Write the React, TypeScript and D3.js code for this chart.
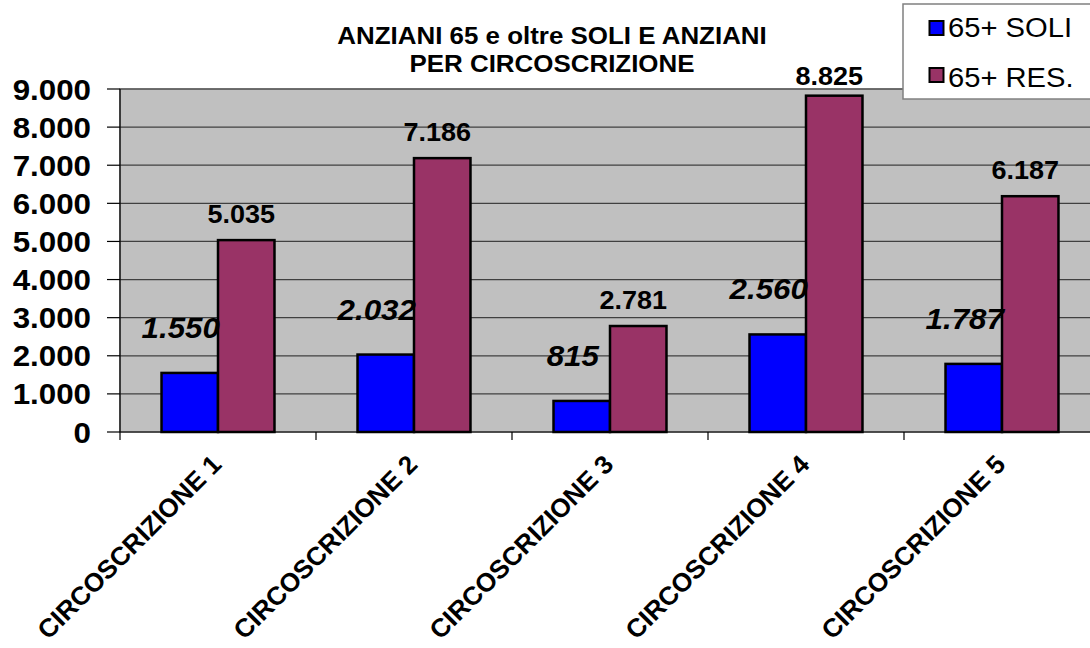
import React from "react";
import * as d3 from "d3";

const categories = ["CIRCOSCRIZIONE 1", "CIRCOSCRIZIONE 2", "CIRCOSCRIZIONE 3", "CIRCOSCRIZIONE 4", "CIRCOSCRIZIONE 5"];
const seriesNames = ["65+ SOLI", "65+ RES."];
const soli = [1550, 2032, 815, 2560, 1787];
const residenti = [5035, 7186, 2781, 8825, 6187];
const yTicks = [0, 1000, 2000, 3000, 4000, 5000, 6000, 7000, 8000, 9000];
const titleLines = ["ANZIANI 65 e oltre SOLI E ANZIANI", "PER CIRCOSCRIZIONE"];

const W = 1090;
const H = 648;
const FONT = "'Liberation Sans', Arial, Helvetica, sans-serif";
const COLORS = ["#0000FF", "#993366"];
const SX = 1.08;

const it = d3.formatLocale({ decimal: ",", thousands: ".", grouping: [3], currency: ["€", ""] });
const fmt = it.format(",d");

function T(props: any) {
  const { x, y, children, anchor = "middle", size = 20, weight = "bold", italic = false } = props;
  return (
    <text
      transform={`translate(${x},${y}) scale(${SX},1)`}
      textAnchor={anchor}
      fontFamily={FONT}
      fontSize={size}
      fontWeight={weight}
      fontStyle={italic ? "italic" : "normal"}
      fill="#000"
    >
      {children}
    </text>
  );
}

export default function App() {
  const left = 120;
  const right = 1100;
  const top = 89;
  const bottom = 432;

  const x = d3.scaleBand<string>().domain(categories).range([left, right]).padding(0);
  const xs = d3.scaleBand<string>().domain(["soli", "res"]).range([0, x.bandwidth()]).paddingInner(0).paddingOuter(0.735);
  const y = d3.scaleLinear().domain([0, 9000]).range([bottom, top]);

  const rows = categories.map((c, i) => ({ c, soli: soli[i], res: residenti[i] }));

  return (
    <svg width={W} height={H} style={{ position: "absolute", left: 0, top: 0, background: "#fff" }}>
      <rect x={0} y={0} width={W} height={H} fill="#fff" />
      {/* plot area */}
      <rect x={left} y={top} width={right - left} height={bottom - top} fill="#C0C0C0" stroke="#808080" strokeWidth={1.5} />
      {yTicks.filter((t) => t > 0).map((t) => (
        <line key={t} x1={left} x2={right} y1={y(t)} y2={y(t)} stroke="#404040" strokeWidth={1.2} />
      ))}
      {/* bars */}
      {rows.map((r) => (
        <g key={r.c} transform={`translate(${x(r.c)},0)`}>
          <rect x={xs("soli")} y={y(r.soli)} width={xs.bandwidth()} height={bottom - y(r.soli)} fill={COLORS[0]} stroke="#000" strokeWidth={2.5} />
          <rect x={xs("res")} y={y(r.res)} width={xs.bandwidth()} height={bottom - y(r.res)} fill={COLORS[1]} stroke="#000" strokeWidth={2.5} />
        </g>
      ))}
      {/* axes */}
      <line x1={left} x2={left} y1={top} y2={bottom} stroke="#000" strokeWidth={1.2} />
      <line x1={left} x2={right} y1={bottom} y2={bottom} stroke="#000" strokeWidth={1.2} />
      {yTicks.map((t) => (
        <g key={t}>
          <line x1={left - 13} x2={left} y1={y(t)} y2={y(t)} stroke="#000" strokeWidth={1.2} />
          <T x={left - 29} y={y(t) + 10.5} anchor="end" size={29}>{fmt(t)}</T>
        </g>
      ))}
      {d3.range(categories.length + 1).map((i) => {
        const xx = left + i * x.step();
        return <line key={i} x1={xx} x2={xx} y1={bottom} y2={bottom + 8} stroke="#000" strokeWidth={1.2} />;
      })}
      {categories.map((c) => {
        const cx = (x(c) as number) + x.bandwidth() / 2 + 5;
        const cy = bottom + 34;
        return (
          <text key={c} transform={`translate(${cx},${cy}) rotate(-45)`} textAnchor="end" fontFamily={FONT} fontSize={26} fontWeight="bold" fill="#000">
            {c}
          </text>
        );
      })}
      {/* data labels */}
      {rows.map((r) => {
        const bx = (x(r.c) as number) + (xs("soli") as number) + xs.bandwidth() / 2;
        const rx = (x(r.c) as number) + (xs("res") as number) + xs.bandwidth() / 2;
        return (
          <g key={r.c}>
            <T x={bx - 9} y={y(r.soli) - 35} size={29} italic>{fmt(r.soli)}</T>
            <T x={rx - 5} y={Math.max(y(r.res) - 17, 85)} size={25}>{fmt(r.res)}</T>
          </g>
        );
      })}
      {/* title */}
      {titleLines.map((l, i) => (
        <T key={i} x={552} y={44 + i * 27.5} size={24}>{l}</T>
      ))}
      {/* legend */}
      <rect x={903} y={4} width={200} height={95} fill="#fff" stroke="#808080" strokeWidth={1.5} />
      {seriesNames.map((s, i) => (
        <g key={s}>
          <rect x={929.5} y={21 + i * 47} width={14} height={14} fill={COLORS[i]} stroke="#000" strokeWidth={2} />
          <T x={948} y={37 + i * 50} anchor="start" size={27} weight="normal">{s}</T>
        </g>
      ))}
    </svg>
  );
}
